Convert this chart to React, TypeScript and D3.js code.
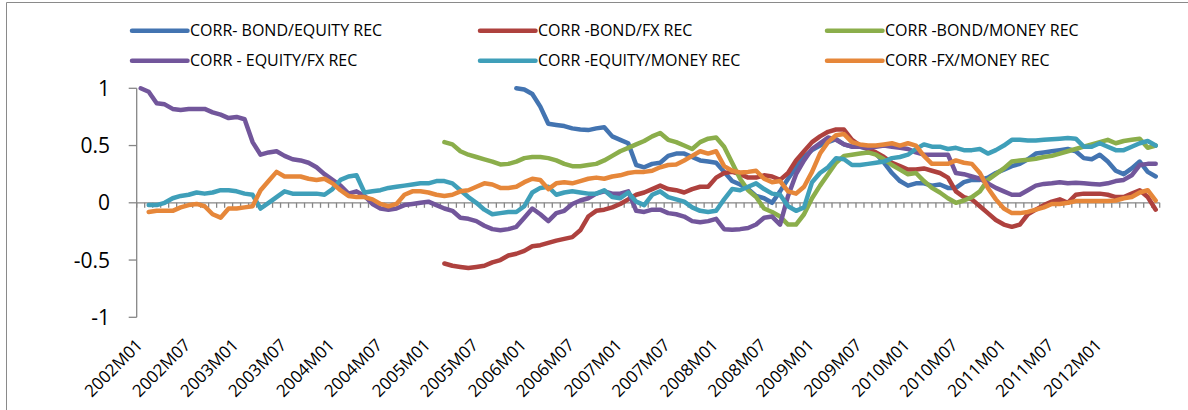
import React from 'react';
import * as d3 from 'd3';

// monthly correlations, 2002M01 .. 2012M08 (null = not yet estimated)
const N = null;

const bondEquity = [
  N, N, N, N, N, N, N, N, N, N, N, N,
  N, N, N, N, N, N, N, N, N, N, N, N,
  N, N, N, N, N, N, N, N, N, N, N, N,
  N, N, N, N, N, N, N, N, N, N, N, 1.0,
  0.99, 0.95, 0.84, 0.69, 0.68, 0.67, 0.65, 0.64, 0.635, 0.65, 0.66, 0.58,
  0.55, 0.52, 0.33, 0.31, 0.34, 0.35, 0.41, 0.43, 0.43, 0.40, 0.37, 0.36,
  0.35, 0.27, 0.19, 0.16, 0.12, 0.06, 0.04, 0.0, 0.10, 0.21, 0.31, 0.40,
  0.46, 0.50, 0.53, 0.555, 0.51, 0.49, 0.49, 0.47, 0.43, 0.35, 0.26, 0.19,
  0.15, 0.17, 0.17, 0.15, 0.16, 0.13, 0.13, 0.18, 0.20, 0.20, 0.22, 0.26,
  0.29, 0.32, 0.34, 0.38, 0.43, 0.44, 0.45, 0.46, 0.47, 0.45, 0.39, 0.38,
  0.42, 0.36, 0.28, 0.25, 0.30, 0.36, 0.27, 0.23,
];

const bondFx = [
  N, N, N, N, N, N, N, N, N, N, N, N,
  N, N, N, N, N, N, N, N, N, N, N, N,
  N, N, N, N, N, N, N, N, N, N, N, N,
  N, N, -0.53, -0.55, -0.56, -0.57, -0.56, -0.55, -0.52, -0.50, -0.46, -0.445,
  -0.42, -0.38, -0.37, -0.35, -0.33, -0.315, -0.30, -0.24, -0.12, -0.07, -0.06, -0.04,
  -0.01, 0.03, 0.07, 0.09, 0.12, 0.15, 0.12, 0.11, 0.09, 0.12, 0.14, 0.14,
  0.22, 0.26, 0.27, 0.25, 0.22, 0.22, 0.24, 0.23, 0.20, 0.26, 0.37, 0.45,
  0.53, 0.58, 0.62, 0.64, 0.64, 0.55, 0.50, 0.47, 0.44, 0.40, 0.35, 0.32,
  0.29, 0.29, 0.30, 0.28, 0.26, 0.22, 0.10, 0.05, 0.03, -0.03, -0.09, -0.15,
  -0.19, -0.21, -0.19, -0.10, -0.06, -0.02, 0.01, 0.03, 0.0, 0.07, 0.08, 0.08,
  0.08, 0.07, 0.05, 0.05, 0.08, 0.11, 0.05, -0.06,
];

const bondMoney = [
  N, N, N, N, N, N, N, N, N, N, N, N,
  N, N, N, N, N, N, N, N, N, N, N, N,
  N, N, N, N, N, N, N, N, N, N, N, N,
  N, N, 0.53, 0.51, 0.45, 0.42, 0.40, 0.38, 0.36, 0.335, 0.34, 0.36,
  0.39, 0.40, 0.40, 0.39, 0.37, 0.34, 0.32, 0.32, 0.33, 0.34, 0.37, 0.41,
  0.45, 0.48, 0.51, 0.54, 0.58, 0.61, 0.55, 0.53, 0.50, 0.47, 0.53, 0.56,
  0.57, 0.49, 0.35, 0.21, 0.11, 0.05, -0.05, -0.08, -0.12, -0.19, -0.19, -0.10,
  0.04, 0.15, 0.25, 0.35, 0.41, 0.42, 0.43, 0.44, 0.42, 0.38, 0.33, 0.29,
  0.25, 0.26, 0.19, 0.13, 0.09, 0.04, 0.0, 0.02, 0.05, 0.10, 0.20, 0.25,
  0.30, 0.36, 0.37, 0.375, 0.385, 0.40, 0.41, 0.43, 0.45, 0.47, 0.49, 0.51,
  0.53, 0.55, 0.52, 0.54, 0.55, 0.56, 0.48, 0.50,
];

const equityFx = [
  1.0, 0.97, 0.87, 0.86, 0.82, 0.81, 0.82, 0.82, 0.82, 0.79, 0.77, 0.74,
  0.75, 0.73, 0.53, 0.42, 0.44, 0.45, 0.41, 0.38, 0.37, 0.35, 0.31, 0.25,
  0.20, 0.15, 0.08, 0.10, 0.06, -0.01, -0.05, -0.06, -0.05, -0.02, -0.01, 0.0,
  0.01, -0.02, -0.05, -0.07, -0.13, -0.14, -0.16, -0.20, -0.23, -0.24, -0.23, -0.21,
  -0.13, -0.05, -0.10, -0.16, -0.09, -0.07, -0.01, 0.02, 0.04, 0.08, 0.10, 0.08,
  0.08, 0.10, -0.07, -0.08, -0.06, -0.06, -0.09, -0.10, -0.12, -0.16, -0.17, -0.16,
  -0.14, -0.23, -0.235, -0.23, -0.22, -0.19, -0.13, -0.12, -0.19, 0.06, 0.25, 0.37,
  0.47, 0.52, 0.57, 0.55, 0.51, 0.49, 0.49, 0.48, 0.49, 0.50, 0.49, 0.48,
  0.47, 0.44, 0.42, 0.42, 0.42, 0.42, 0.26, 0.25, 0.23, 0.21, 0.17, 0.13,
  0.10, 0.07, 0.07, 0.11, 0.15, 0.165, 0.17, 0.18, 0.17, 0.175, 0.17, 0.165,
  0.16, 0.17, 0.19, 0.20, 0.24, 0.33, 0.34, 0.34,
];

const equityMoney = [
  N, -0.02, -0.02, 0.0, 0.04, 0.06, 0.07, 0.09, 0.08, 0.09, 0.11, 0.11,
  0.10, 0.08, 0.07, -0.05, 0.0, 0.05, 0.10, 0.08, 0.08, 0.08, 0.08, 0.07,
  0.12, 0.20, 0.23, 0.24, 0.09, 0.10, 0.11, 0.13, 0.14, 0.15, 0.16, 0.17,
  0.17, 0.19, 0.19, 0.17, 0.11, 0.05, 0.0, -0.06, -0.10, -0.09, -0.08, -0.08,
  -0.03, 0.09, 0.13, 0.14, 0.07, 0.09, 0.10, 0.09, 0.08, 0.08, 0.11, 0.05,
  0.04, 0.09, 0.01, -0.02, 0.07, 0.10, 0.05, 0.03, 0.01, -0.04, -0.07, -0.08,
  -0.07, 0.03, 0.12, 0.11, 0.14, 0.17, 0.12, 0.08, 0.07, -0.03, -0.07, -0.04,
  0.18, 0.26, 0.31, 0.39, 0.38, 0.33, 0.33, 0.34, 0.35, 0.36, 0.39, 0.40,
  0.42, 0.47, 0.51, 0.49, 0.49, 0.47, 0.48, 0.46, 0.46, 0.47, 0.43, 0.46,
  0.50, 0.55, 0.55, 0.545, 0.545, 0.55, 0.555, 0.56, 0.565, 0.56, 0.49, 0.49,
  0.52, 0.49, 0.46, 0.46, 0.49, 0.52, 0.54, 0.50,
];

const fxMoney = [
  N, -0.08, -0.07, -0.07, -0.07, -0.04, -0.02, -0.01, -0.03, -0.10, -0.13, -0.05,
  -0.05, -0.04, -0.03, 0.11, 0.19, 0.27, 0.23, 0.23, 0.23, 0.21, 0.20, 0.21,
  0.17, 0.11, 0.06, 0.05, 0.05, 0.03, -0.01, -0.03, -0.01, 0.07, 0.10, 0.10,
  0.09, 0.07, 0.06, 0.07, 0.10, 0.11, 0.14, 0.17, 0.16, 0.13, 0.13, 0.14,
  0.18, 0.21, 0.20, 0.12, 0.17, 0.18, 0.17, 0.19, 0.21, 0.22, 0.21, 0.23,
  0.24, 0.26, 0.27, 0.27, 0.28, 0.31, 0.33, 0.335, 0.37, 0.41, 0.45, 0.43,
  0.45, 0.32, 0.28, 0.265, 0.27, 0.28, 0.21, 0.18, 0.19, 0.10, 0.08, 0.14,
  0.27, 0.43, 0.53, 0.59, 0.60, 0.53, 0.51, 0.50, 0.50, 0.51, 0.52, 0.50,
  0.52, 0.50, 0.41, 0.34, 0.34, 0.34, 0.37, 0.35, 0.34, 0.26, 0.13, 0.03,
  -0.05, -0.09, -0.09, -0.08, -0.06, -0.04, -0.01, -0.01, 0.0, 0.015, 0.015, 0.015,
  0.015, 0.015, 0.02, 0.04, 0.05, 0.09, 0.11, 0.02,
];

const seriesNames = [
  'CORR- BOND/EQUITY REC',
  'CORR -BOND/FX REC',
  'CORR -BOND/MONEY REC',
  'CORR - EQUITY/FX REC',
  'CORR -EQUITY/MONEY REC',
  'CORR -FX/MONEY REC',
];
const seriesValues = [bondEquity, bondFx, bondMoney, equityFx, equityMoney, fxMoney];
const seriesColors = ['#4374B1', '#AE413E', '#8BAE4B', '#72569B', '#3F9FB9', '#E6873A'];

const yTicks = [-1, -0.5, 0, 0.5, 1];
const tickLabels = [
  '2002M01', '2002M07', '2003M01', '2003M07', '2004M01', '2004M07', '2005M01',
  '2005M07', '2006M01', '2006M07', '2007M01', '2007M07', '2008M01', '2008M07',
  '2009M01', '2009M07', '2010M01', '2010M07', '2011M01', '2011M07', '2012M01',
];

const W = 1188;
const H = 410;
const FONT = '"Open Sans", "Liberation Sans", sans-serif';
const AXIS = '#868686';

export default function App() {
  const n = equityFx.length;
  const x = d3.scaleLinear().domain([0, n]).range([136.7, 1159.7]);
  const y = d3.scaleLinear().domain([-1, 1]).range([317.3, 88.3]);
  const cx = (i: number) => x(i + 0.5);

  const line = d3
    .line<number | null>()
    .defined((d) => d !== null)
    .x((_, i) => cx(i))
    .y((d) => y(d as number));

  const legendCols = [132, 480, 827];
  const legendRows = [30.7, 60.7];

  return (
    <svg width={W} height={H} style={{ position: 'absolute', left: 0, top: 0, background: '#fff' }}>
      <rect x={0} y={0} width={W} height={H} fill="#fff" />
      <path d={`M6.5,${H + 5}V2.5H${W + 5}`} fill="none" stroke="#8a8a8a" strokeWidth={1} />

      {/* y axis */}
      <line x1={x(0)} x2={x(0)} y1={y(1)} y2={y(-1)} stroke={AXIS} strokeWidth={1.3} />
      {yTicks.map((t) => (
        <g key={t}>
          <line x1={x(0) - 8} x2={x(0)} y1={y(t)} y2={y(t)} stroke={AXIS} strokeWidth={1.3} />
          <text x={110} y={y(t)} dy="0.36em" textAnchor="end" fontFamily={FONT} fontSize={21} fill="#000">
            {t}
          </text>
        </g>
      ))}

      {/* x axis at zero */}
      <line x1={x(0)} x2={x(n)} y1={y(0)} y2={y(0)} stroke={AXIS} strokeWidth={1.3} />
      {d3.range(n + 1).map((k) => (
        <line key={k} x1={x(k)} x2={x(k)} y1={y(0)} y2={y(0) + 5} stroke={AXIS} strokeWidth={1.3} />
      ))}
      {tickLabels.map((lab, j) => (
        <text
          key={lab}
          transform={`translate(${cx(j * 6) + 3},346) rotate(-45)`}
          textAnchor="end"
          fontFamily={FONT}
          fontSize={17}
          fill="#000"
        >
          {lab}
        </text>
      ))}

      {/* series */}
      {seriesValues.map((vals, s) => (
        <path
          key={s}
          d={line(vals) || ''}
          fill="none"
          stroke={seriesColors[s]}
          strokeWidth={4.5}
          strokeLinejoin="round"
          strokeLinecap="round"
        />
      ))}

      {/* legend */}
      {seriesNames.map((name, s) => {
        const lx = legendCols[s % 3];
        const ly = legendRows[Math.floor(s / 3)];
        return (
          <g key={name}>
            <line x1={lx} x2={lx + 55.5} y1={ly} y2={ly} stroke={seriesColors[s]} strokeWidth={4.5} strokeLinecap="round" />
            <text x={lx + 58} y={ly} dy="0.36em" fontFamily={FONT} fontSize={16} fill="#000">
              {name}
            </text>
          </g>
        );
      })}
    </svg>
  );
}
